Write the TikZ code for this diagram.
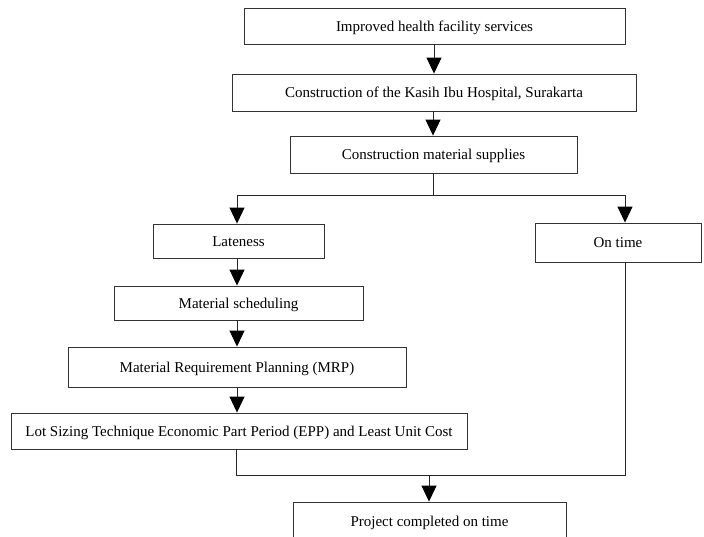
\documentclass[tikz,border=0pt]{standalone}
\usepackage{fontspec}
\setmainfont{Liberation Serif}
\usetikzlibrary{arrows.meta}
\tikzset{
  box/.style={draw=black!80, line width=0.9pt, rectangle, inner sep=0pt, text height=12pt, text depth=2pt, font=\fontsize{15}{17}\selectfont},
  conn/.style={draw=black!85, line width=0.9pt},
  arr/.style={conn, -{Triangle[width=15pt,length=16pt,fill=black,color=black]}}
}
\begin{document}
\begin{tikzpicture}[x=1pt,y=-1pt]
\useasboundingbox (0,0) rectangle (704,536);
\begin{scope}
\clip (0,0) rectangle (704,536);
\node[box, minimum width=381pt, minimum height=36pt] (b1) at (434.5,26) {Improved health facility services};
\node[box, minimum width=404pt, minimum height=37pt] (b2) at (434,92.5) {Construction of the Kasih Ibu Hospital, Surakarta};
\node[box, minimum width=287pt, minimum height=37pt] (b3) at (433.5,154.5) {Construction material supplies};
\node[box, minimum width=171pt, minimum height=34pt] (late) at (238.5,241) {Lateness};
\node[box, minimum width=166pt, minimum height=39pt] (ontime) at (618,242.5) {On time};
\node[box, minimum width=249pt, minimum height=34pt] (sched) at (238.5,303) {Material scheduling};
\node[box, minimum width=338pt, minimum height=40pt] (mrp) at (237,367) {Material Requirement Planning (MRP)};
\node[box, minimum width=456pt, minimum height=36pt] (lot) at (239,431) {Lot Sizing Technique Economic Part Period (EPP) and Least Unit Cost};
\node[box, minimum width=273pt, minimum height=38pt] (proj) at (429.5,521) {Project completed on time};

\coordinate (split) at (433,195);
\coordinate (splitL) at (237,195);
\coordinate (splitR) at (625,195);
\coordinate (mergeL) at (236,475);
\coordinate (mergeR) at (625,475);
\coordinate (mergeC) at (429,475);

\draw[arr] (b1.south -| 434,0) -- (b2.north -| 434,0);
\draw[arr] (b2.south -| 433,0) -- (b3.north -| 433,0);
\draw[conn] (b3.south -| split) -- (split);
\draw[conn] (splitL) -- (splitR);
\draw[arr] (splitL) -- (late.north -| splitL);
\draw[arr] (splitR) -- (ontime.north -| splitR);
\draw[arr] (late.south -| 237,0) -- (sched.north -| 237,0);
\draw[arr] (sched.south -| 237,0) -- (mrp.north -| 237,0);
\draw[arr] (mrp.south -| 237,0) -- (lot.north -| 237,0);
\draw[conn] (lot.south -| mergeL) -- (mergeL) -- (mergeR) -- (ontime.south -| mergeR);
\draw[arr] (mergeC) -- (proj.north -| mergeC);
\end{scope}
\end{tikzpicture}
\end{document}
